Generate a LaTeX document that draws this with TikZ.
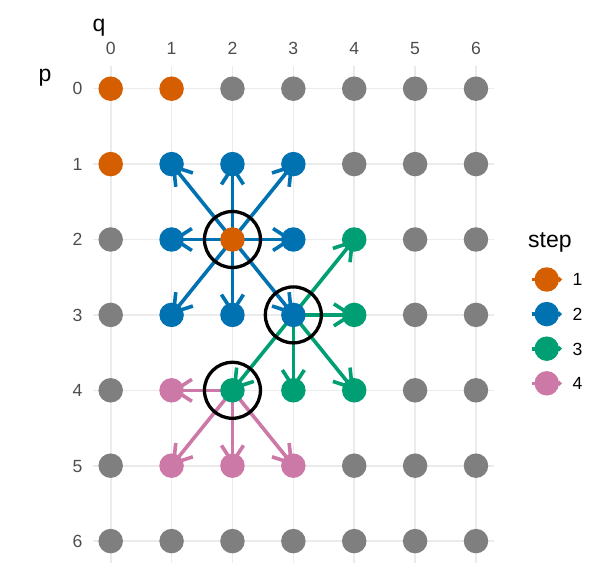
\documentclass[tikz,border=0pt]{standalone}
\usepackage{fontspec}
\setmainfont{Liberation Sans}
\usetikzlibrary{arrows.meta}
\definecolor{cOrange}{HTML}{D55E00}
\definecolor{cBlue}{HTML}{0072B2}
\definecolor{cGreen}{HTML}{009E73}
\definecolor{cPink}{HTML}{CC79A7}
\definecolor{cGray}{HTML}{7F7F7F}
\definecolor{cGrid}{HTML}{EBEBEB}
\definecolor{cTick}{HTML}{4D4D4D}
\pgfdeclarelayer{back}
\pgfsetlayers{back,main}
\newcommand{\PX}[1]{110.7+60.88*#1}
\newcommand{\PY}[1]{88.7+75.4*#1}
\tikzset{
  gridline/.style={cGrid, line width=1.6pt},
  pt/.style={circle, minimum size=24.5pt, inner sep=0pt, fill=#1},
  arr/.style={#1, line width=3.6pt, line cap=butt, -{Straight Barb[length=17pt, width=22pt, line width=3.6pt]}},
  ring/.style={circle, minimum size=56pt, inner sep=0pt, draw=black, line width=3.3pt},
  ticklab/.style={text=cTick, font=\fontsize{17.6}{20}\selectfont, inner sep=0pt},
  titlelab/.style={text=black, font=\fontsize{23}{27}\selectfont, inner sep=0pt},
  leglab/.style={text=black, font=\fontsize{17.6}{20}\selectfont, inner sep=0pt},
}
\begin{document}
\begin{tikzpicture}[x=1pt, y=-1pt]
\useasboundingbox (0,0) rectangle (592,572);
% grid
\begin{pgfonlayer}{back}
\foreach \i in {0,...,6}{
  \draw[gridline] ({\PX{\i}},66) -- ({\PX{\i}},563);
  \draw[gridline] (92.5,{\PY{\i}}) -- (494,{\PY{\i}});
}
\end{pgfonlayer}
% axis titles and ticks
\node[titlelab, anchor=base] (qtitle) at (99,31.3) {q};
\node[titlelab, anchor=base] (ptitle) at (45,82) {p};
\foreach \i in {0,...,6}{
  \node[ticklab, anchor=base] (ct\i) at ({\PX{\i}},55) {\i};
  \node[ticklab, anchor=base east] (rt\i) at (82.5,{\PY{\i}+6.3}) {\i};
}
% points
\foreach \p/\q in {0/0,0/1,1/0,2/2}
  \node[pt=cOrange] (p\p\q) at ({\PX{\q}},{\PY{\p}}) {};
\foreach \p/\q in {1/1,1/2,1/3,2/1,2/3,3/1,3/2,3/3}
  \node[pt=cBlue] (p\p\q) at ({\PX{\q}},{\PY{\p}}) {};
\foreach \p/\q in {2/4,3/4,4/2,4/3,4/4}
  \node[pt=cGreen] (p\p\q) at ({\PX{\q}},{\PY{\p}}) {};
\foreach \p/\q in {4/1,5/1,5/2,5/3}
  \node[pt=cPink] (p\p\q) at ({\PX{\q}},{\PY{\p}}) {};
\foreach \p/\q in {0/2,0/3,0/4,0/5,0/6,1/4,1/5,1/6,2/0,2/5,2/6,3/0,3/5,3/6,4/0,4/5,4/6,5/0,5/4,5/5,5/6,6/0,6/1,6/2,6/3,6/4,6/5,6/6}
  \node[pt=cGray] (p\p\q) at ({\PX{\q}},{\PY{\p}}) {};
% arrows
\begin{pgfonlayer}{back}
\foreach \t in {11,12,13,21,23,31,32,33}
  \draw[arr=cBlue] (p22.center) -- (p\t.center);
\foreach \t in {24,34,42,43,44}
  \draw[arr=cGreen] (p33.center) -- (p\t.center);
\foreach \t in {41,51,52,53}
  \draw[arr=cPink] (p42.center) -- (p\t.center);
\end{pgfonlayer}
% rings
\node[ring] (r1) at (p22) {};
\node[ring] (r2) at (p33) {};
\node[ring] (r3) at (p42) {};
% legend
\node[titlelab, anchor=base west] (legtitle) at (528,248) {step};
\foreach \k/\c in {1/cOrange,2/cBlue,3/cGreen,4/cPink}{
  \coordinate (kl\k) at (531.5,{279.5+34.6*(\k-1)});
  \coordinate (kr\k) at (562,{279.5+34.6*(\k-1)});
  \draw[\c, line width=3.6pt, -{Straight Barb[length=2pt, width=4pt, line width=2pt]}] (kl\k) -- (kr\k);
  \node[pt=\c] (key\k) at (546.75,{279.5+34.6*(\k-1)}) {};
  \node[leglab, anchor=base west] (kt\k) at (572.5,{279.5+34.6*(\k-1)+6.3}) {\k};
}
\end{tikzpicture}
\end{document}
